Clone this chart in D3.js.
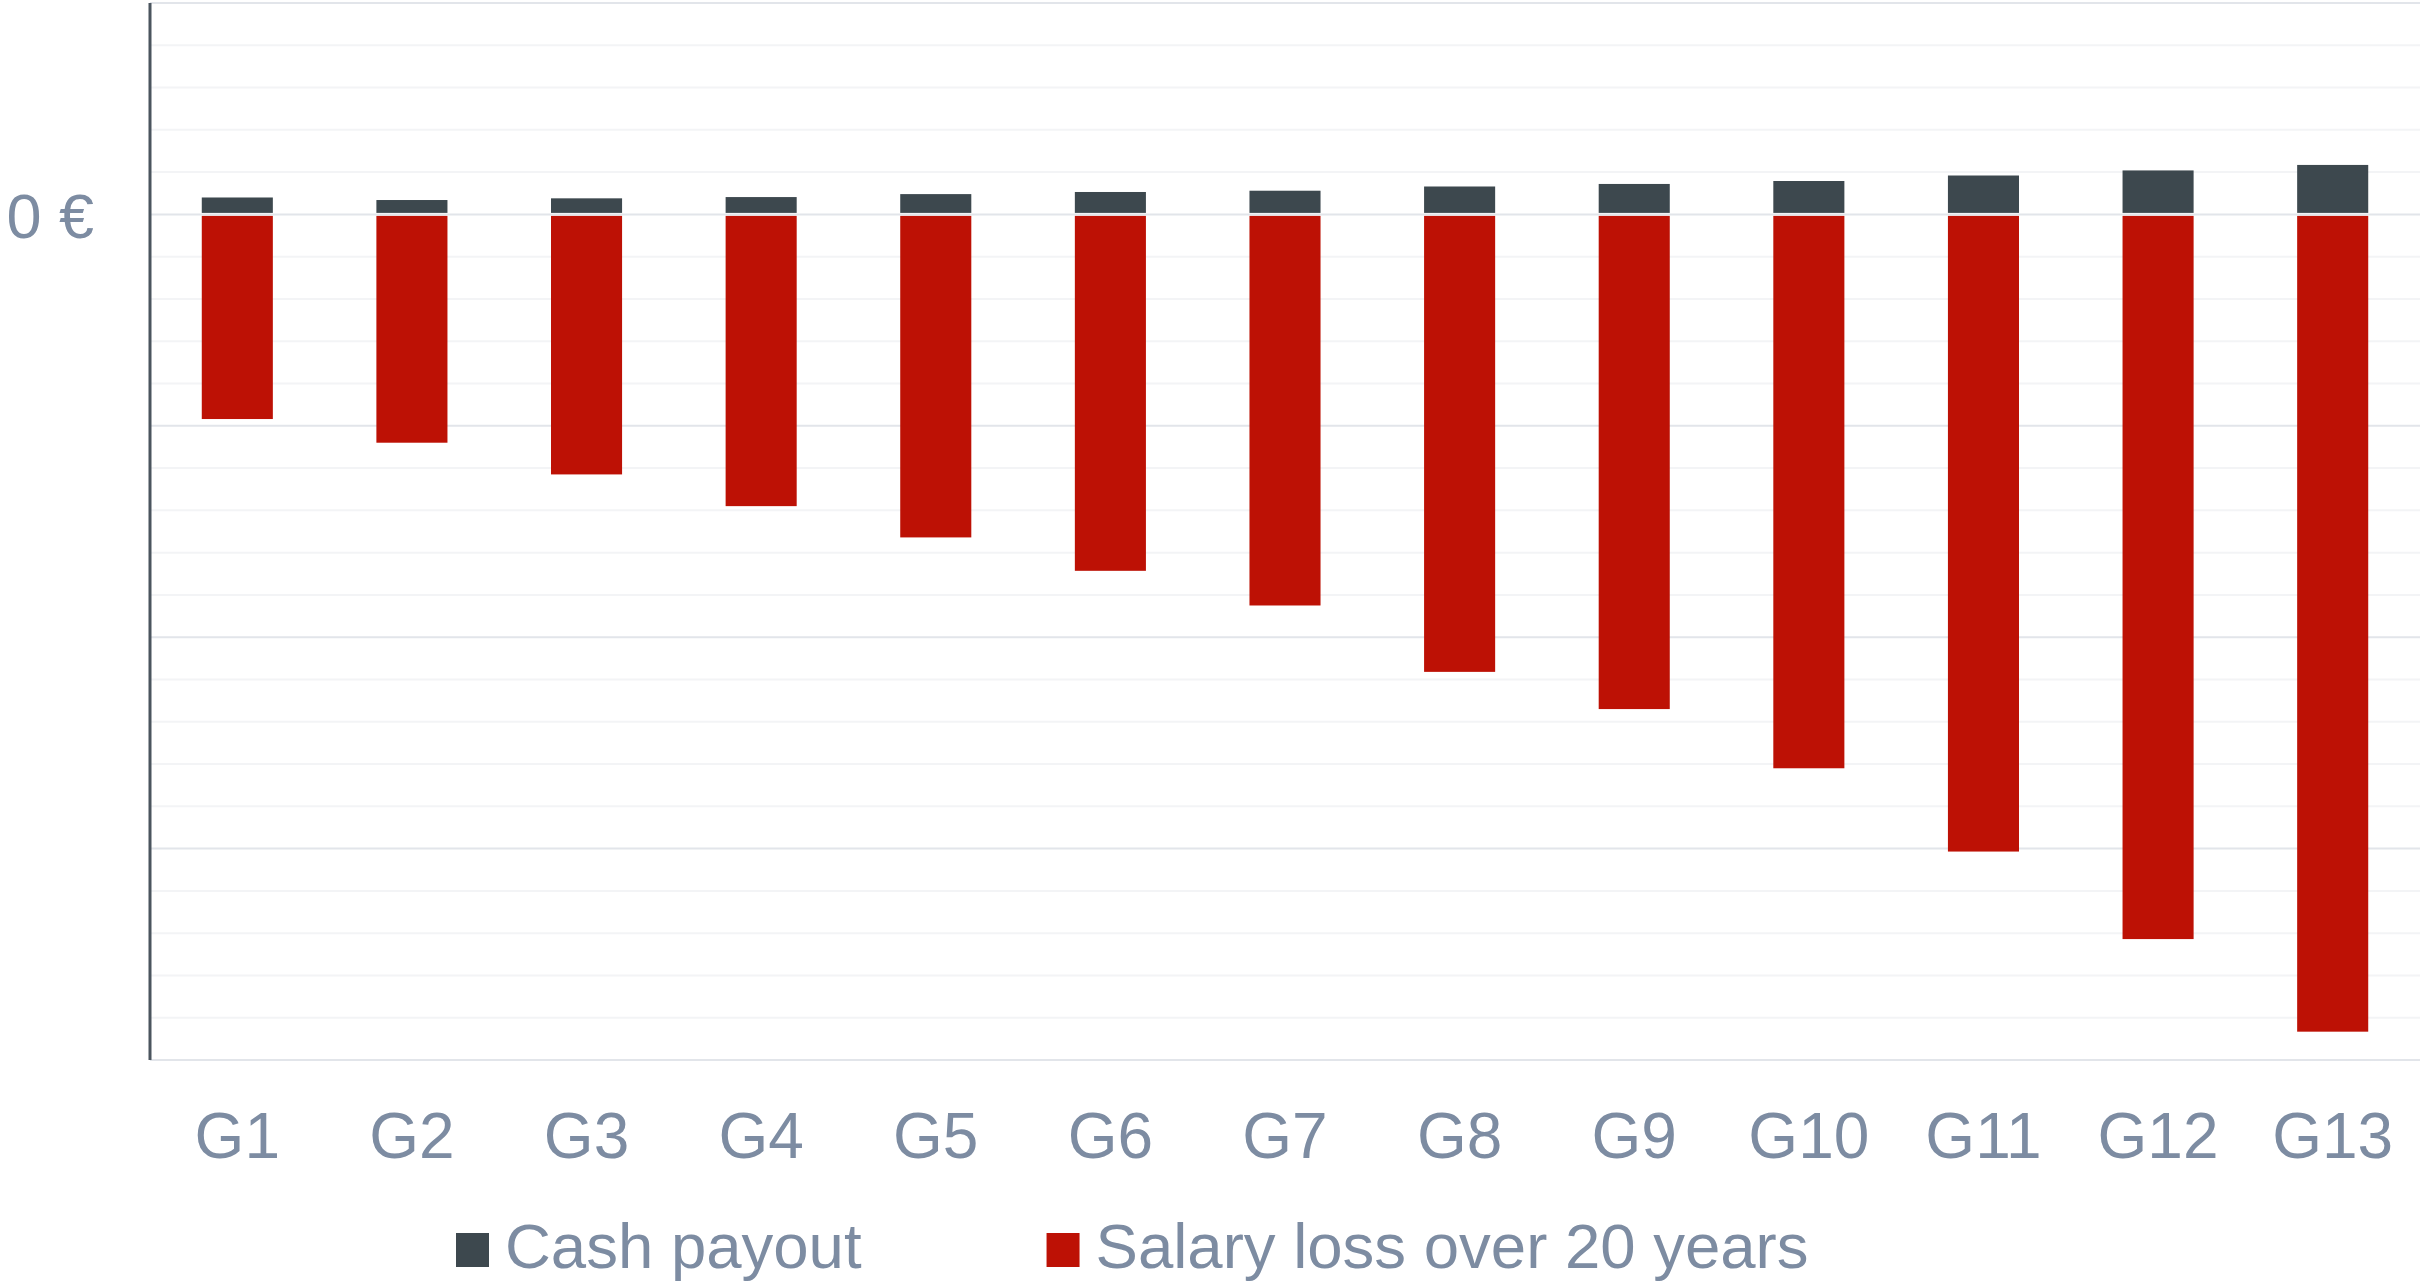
<!DOCTYPE html>
<html><head><meta charset="utf-8">
<script src="https://cdn.jsdelivr.net/npm/d3@7"></script>
<style>
html,body{margin:0;padding:0;background:#fff;}
svg{display:block;}
text{font-family:"Liberation Sans",Arial,sans-serif;fill:#7d8ca2;}
</style></head>
<body>
<svg id="chart" width="2420" height="1284"></svg>
<script>
const categories = ["G1","G2","G3","G4","G5","G6","G7","G8","G9","G10","G11","G12","G13"];
const cashPayout = [4000, 3400, 3800, 4100, 4800, 5300, 5600, 6600, 7200, 7900, 9200, 10400, 11700];
const salaryLoss = [-48400, -54000, -61500, -69000, -76400, -84300, -92500, -108200, -117000, -131000, -150700, -171400, -193300];
const seriesNames = ["Cash payout", "Salary loss over 20 years"];
const seriesColors = ["#3d484e", "#bd1105"];
const yDomain = [-200000, 50000];
const majorTicks = [-200000, -150000, -100000, -50000, 0, 50000];
const yLabelTicks = [0];

const plot = {left: 150, right: 2420, top: 3, bottom: 1060};
const svg = d3.select("#chart");

const x = d3.scaleBand().domain(categories).range([plot.left, plot.right]).paddingInner(0.593).paddingOuter(0.2965);
const y = d3.scaleLinear().domain(yDomain).range([plot.bottom, plot.top]);

// minor grid
const minorTicks = d3.range(yDomain[0], yDomain[1] + 1, 10000).filter(v => !majorTicks.includes(v));
svg.append("g").selectAll("line").data(minorTicks).join("line")
  .attr("x1", plot.left).attr("x2", plot.right)
  .attr("y1", d => y(d)).attr("y2", d => y(d))
  .attr("stroke", "#f3f4f6").attr("stroke-width", 2);
// major grid
svg.append("g").selectAll("line").data(majorTicks).join("line")
  .attr("x1", plot.left).attr("x2", plot.right)
  .attr("y1", d => y(d)).attr("y2", d => y(d))
  .attr("stroke", "#e2e5ea").attr("stroke-width", 2);

const y0 = y(0);
// cash bars
svg.append("g").selectAll("rect").data(cashPayout).join("rect")
  .attr("x", (d, i) => x(categories[i]))
  .attr("width", x.bandwidth())
  .attr("y", d => y(d))
  .attr("height", d => Math.max(0, y0 - 1.5 - y(d)))
  .attr("fill", seriesColors[0]);
// salary loss bars
svg.append("g").selectAll("rect").data(salaryLoss).join("rect")
  .attr("x", (d, i) => x(categories[i]))
  .attr("width", x.bandwidth())
  .attr("y", y0 + 1.5)
  .attr("height", d => Math.max(0, y(d) - y0 - 1.5))
  .attr("fill", seriesColors[1]);

// y axis line
svg.append("line").attr("x1", plot.left).attr("x2", plot.left)
  .attr("y1", plot.top).attr("y2", plot.bottom)
  .attr("stroke", "#4b555e").attr("stroke-width", 3);

// y label
const yAxis = d3.axisLeft(y).tickValues(yLabelTicks).tickSize(0).tickPadding(0)
  .tickFormat(d => d3.format(",")(d) + " €");
const gy = svg.append("g").attr("transform", `translate(${plot.left - 56},0)`).call(yAxis);
gy.select(".domain").remove();
gy.selectAll("text").attr("font-size", 63).attr("fill", "#7d8ca2")
  .attr("font-family", "Liberation Sans").attr("dy", "0.36em");

// x axis labels
const xAxis = d3.axisBottom(x).tickSize(0).tickPadding(0);
const gx = svg.append("g").attr("transform", `translate(0,${1158})`).call(xAxis);
gx.select(".domain").remove();
gx.selectAll("text").attr("font-size", 64).attr("fill", "#7d8ca2")
  .attr("font-family", "Liberation Sans").attr("dy", 0).attr("y", 0);

// legend
const legend = svg.append("g");
let lx = 456;
seriesNames.forEach((name, i) => {
  const g = legend.append("g");
  g.append("rect").attr("x", lx).attr("y", 1233).attr("width", 33).attr("height", 34).attr("fill", seriesColors[i]);
  const t = g.append("text").attr("x", lx + 49).attr("y", 1268).attr("font-size", 63.5).attr("fill", "#7d8ca2").text(name);
  const w = t.node().getComputedTextLength();
  lx = lx + 49 + w + 185;
});
</script>
</body></html>
